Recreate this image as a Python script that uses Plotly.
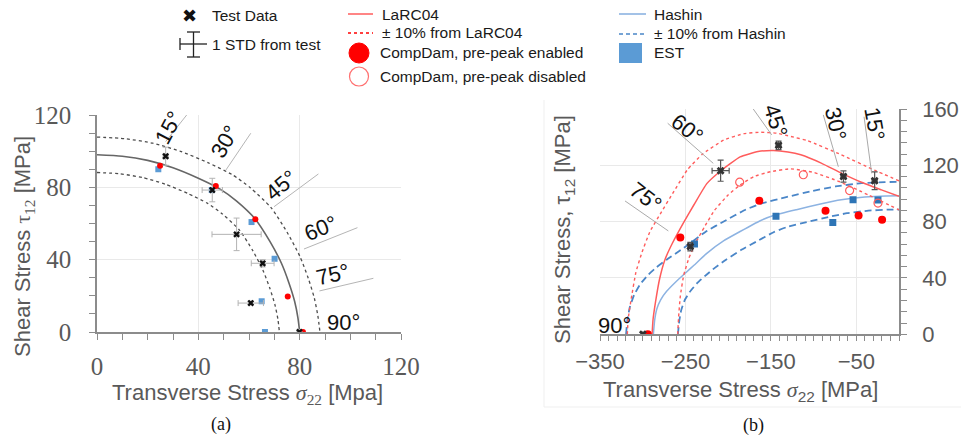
import plotly.graph_objects as go

W, H = 961, 438
def px(x): return x / W
def py(y): return 1 - y / H

# ---------------- (a) data ----------------
a_solid_s = [0, 10, 20, 30, 40, 48.6, 55, 62.5, 68.3, 72.8, 75.8, 78, 79.3, 80]
a_solid_t = [98, 97.2, 94.9, 90.8, 85, 79, 72.5, 62.4, 50, 38, 27, 17, 8, 0]
a_outer_s = [0, 11, 22, 33, 44, 53.5, 60.5, 68.8, 75.1, 80.1, 83.4, 85.8, 87.2, 88]
a_outer_t = [107.8, 106.9, 104.4, 99.9, 93.5, 86.9, 79.8, 68.6, 55, 41.8, 29.7, 18.7, 8.8, 0]
a_inner_s = [0, 9, 18, 27, 36, 43.7, 49.5, 56.3, 61.5, 65.5, 68.2, 70.2, 71.4, 72]
a_inner_t = [88.2, 87.5, 85.4, 81.7, 76.5, 71.1, 65.3, 56.2, 45, 34.2, 24.3, 15.3, 7.2, 0]

a_test_s = [27.1, 45.5, 55.1, 65.4, 60.7, 79.9]
a_test_t = [97.2, 78.5, 54, 38, 16, 0]
a_test_es = [1, 4, 9.7, 4.5, 5, 0]
a_test_et = [5, 6.5, 9, 2, 1, 0]

a_cd_s = [24.9, 46.9, 62.5, 75.3, 81.3]
a_cd_t = [92, 80.8, 62.4, 19.7, 0]

a_est_s = [24.2, 45.3, 61, 70.1, 65, 66.3]
a_est_t = [90, 78.5, 60.8, 40.5, 17, 0]

# ---------------- (b) data ----------------
b_larc_s = [-289, -288, -285, -280, -274, -265, -252.5, -240, -225, -208.8, -186, -165, -147, -130, -115, -91, -67.6, -44, -20.6, 0]
b_larc_t = [0, 10, 23, 40, 53, 65, 79, 92, 107, 116, 126, 129.8, 130.5, 129.5, 127.5, 121.6, 114.5, 108, 102.6, 98]
b_larc_hi_s = [-318, -317, -313.5, -308, -301, -291.5, -278, -264, -247.5, -230, -205, -181.5, -162, -143, -126.5, -107, -67.6, -28.5, 0]
b_larc_hi_t = [0, 11, 25, 44, 58, 73, 87, 101, 117, 128, 138, 142.5, 143.5, 142.8, 140.5, 137.5, 127.5, 116.5, 109]
b_larc_lo_s = [-259, -258, -256, -252, -246, -238, -228, -216, -200, -186, -170, -150, -127, -100, -70, -36, 0]
b_larc_lo_t = [0, 12, 27, 42, 54, 65, 76, 88, 99, 106, 112, 115.5, 117.5, 115, 108.5, 99, 88.4]

b_hash_s = [-287.5, -286, -283.5, -279, -272, -262, -250, -240, -225, -205, -186, -163, -146, -120, -92, -67.6, -40, -15, 0]
b_hash_t = [0, 10, 18, 24.5, 30.5, 36.8, 43.5, 49, 57.5, 66.5, 73, 80.5, 84.5, 88.5, 92.5, 95.5, 97.5, 98.3, 98.4]
b_hash_hi_s = [-319.5, -318, -315, -310, -303, -294, -284, -272, -258, -244.6, -225.5, -204.6, -179.3, -160.6, -132, -101.2, -74.4, -44, -16.5, 0]
b_hash_hi_t = [0, 10, 19.5, 28, 35.5, 42, 47.5, 53, 58.8, 64.6, 73.2, 80.3, 88.6, 93, 97.4, 101.8, 105, 107.3, 108.1, 108.2]
b_hash_lo_s = [-258.8, -257.3, -255, -251, -245, -236, -225, -216, -202.5, -184.5, -167.4, -146.7, -131.4, -108, -82.8, -60.8, -36, -13.5, 0]
b_hash_lo_t = [0, 9, 17, 24, 30, 36.5, 42.5, 47, 53, 60, 65.7, 72.5, 76.1, 79.7, 83.3, 86, 87.8, 88.5, 88.6]

b_test_s = [-299.8, -244.3, -208.8, -141, -65, -28.5]
b_test_t = [0, 62.3, 116.2, 134.2, 112.1, 109]
b_test_es = [0, 3, 10, 3, 3, 3]
b_test_et = [0, 3, 7.5, 3, 4, 6.3]

b_cd_on_s = [-294, -256, -163.5, -86, -47.3, -19.8]
b_cd_on_t = [0, 68.7, 94.8, 87.7, 84.4, 81.3]
b_cd_off_s = [-186.5, -112, -57.8, -24.6]
b_cd_off_t = [108, 113.3, 102.1, 93.2]
b_est_s = [-239.4, -144, -77.5, -53.8, -24.6]
b_est_t = [64.2, 83.9, 79.4, 95.5, 95.3]

a_ticks = [0, 40, 80, 120]
b_xticks = [-350, -250, -150, -50]
b_yticks = [0, 40, 80, 120, 160]

# ---------------- styles ----------------
RED = "#ff0000"
LRED = "#ff5c5c"
BLUE_L = "#8db3e2"
BLUE_D = "#4a86c8"
EST_A = "#5b9bd5"
EST_B = "#2e75b6"
TICKC = "#595959"
AXC = "#8c8c8c"
GRID = "#e9e9e9"
SANS = "Liberation Sans, Arial, sans-serif"
SERIF = "Liberation Serif, Times New Roman, serif"

fig = go.Figure()

def line_tr(xs, ys, color, width, dash=None, ax="", shape="spline", smoothing=0.6):
    ln = dict(color=color, width=width, shape=shape)
    if shape == "spline":
        ln["smoothing"] = smoothing
    if dash:
        ln["dash"] = dash
    return go.Scatter(x=xs, y=ys, mode="lines", line=ln, xaxis="x" + ax, yaxis="y" + ax, hoverinfo="skip")

# (a) traces
fig.add_trace(line_tr(a_outer_s, a_outer_t, "#4d4d4d", 1.3, "3px,3px"))
fig.add_trace(line_tr(a_inner_s, a_inner_t, "#4d4d4d", 1.3, "3px,3px"))
fig.add_trace(line_tr(a_solid_s, a_solid_t, "#666666", 1.6))
fig.add_trace(go.Scatter(x=a_est_s, y=a_est_t, mode="markers", marker=dict(symbol="square", size=6, color=EST_A), xaxis="x", yaxis="y"))
fig.add_trace(go.Scatter(x=a_cd_s, y=a_cd_t, mode="markers", marker=dict(symbol="circle", size=6, color=RED), xaxis="x", yaxis="y"))
fig.add_trace(go.Scatter(x=a_test_s, y=a_test_t, mode="markers",
                         marker=dict(symbol="x", size=6, color="#111111"),
                         error_x=dict(type="data", array=a_test_es, color="#b3b3b3", thickness=1, width=3),
                         error_y=dict(type="data", array=a_test_et, color="#b3b3b3", thickness=1, width=3),
                         xaxis="x", yaxis="y"))

# (b) traces
fig.add_trace(line_tr(b_hash_hi_s, b_hash_hi_t, BLUE_D, 1.8, "7px,4px", "2", smoothing=0.4))
fig.add_trace(line_tr(b_hash_lo_s, b_hash_lo_t, BLUE_D, 1.8, "7px,4px", "2", smoothing=0.4))
fig.add_trace(line_tr(b_hash_s, b_hash_t, BLUE_L, 1.5, None, "2", smoothing=0.4))
fig.add_trace(line_tr(b_larc_hi_s, b_larc_hi_t, LRED, 1.4, "3px,3px", "2", smoothing=0.4))
fig.add_trace(line_tr(b_larc_lo_s, b_larc_lo_t, LRED, 1.4, "3px,3px", "2", smoothing=0.4))
fig.add_trace(line_tr(b_larc_s, b_larc_t, LRED, 1.5, None, "2", smoothing=0.4))
fig.add_trace(go.Scatter(x=b_est_s, y=b_est_t, mode="markers", marker=dict(symbol="square", size=7, color=EST_B), xaxis="x2", yaxis="y2"))
fig.add_trace(go.Scatter(x=b_cd_off_s, y=b_cd_off_t, mode="markers", marker=dict(symbol="circle-open", size=8, color=LRED, line=dict(width=1.2)), xaxis="x2", yaxis="y2"))
fig.add_trace(go.Scatter(x=b_cd_on_s, y=b_cd_on_t, mode="markers", marker=dict(symbol="circle", size=8, color=RED), xaxis="x2", yaxis="y2"))
fig.add_trace(go.Scatter(x=b_test_s, y=b_test_t, mode="markers",
                         marker=dict(symbol="x", size=7, color="#333333"),
                         error_x=dict(type="data", array=b_test_es, color="#555555", thickness=1.2, width=3),
                         error_y=dict(type="data", array=b_test_et, color="#555555", thickness=1.2, width=3),
                         xaxis="x2", yaxis="y2"))

minor_a = dict(dtick=10, ticks="outside", ticklen=6, tickcolor=AXC, tickwidth=1.2, showgrid=False)

fig.update_layout(
    width=W, height=H, margin=dict(l=0, r=0, t=0, b=0, autoexpand=False),
    paper_bgcolor="white", plot_bgcolor="white", showlegend=False,
    xaxis=dict(domain=[px(97), px(401)], range=[0, 120], anchor="y", tickvals=a_ticks, automargin=False,
               ticks="outside", ticklen=6, tickcolor=AXC, tickwidth=1.2, minor=minor_a,
               showline=True, linecolor=AXC, linewidth=1.5, showgrid=True, gridcolor=GRID,
               zeroline=False, tickfont=dict(family=SERIF, size=25, color=TICKC), ticklabelstandoff=5),
    yaxis=dict(domain=[py(332), py(115)], range=[0, 120], anchor="x", tickvals=a_ticks, automargin=False,
               ticks="outside", ticklen=6, tickcolor=AXC, tickwidth=1.2, minor=minor_a,
               showline=True, linecolor=AXC, linewidth=1.5, showgrid=True, gridcolor=GRID,
               zeroline=False, tickfont=dict(family=SERIF, size=25, color=TICKC), ticklabelstandoff=13),
    xaxis2=dict(domain=[px(600), px(899)], range=[-350, 0], anchor="y2", tickvals=b_xticks, automargin=False,
                ticks="outside", ticklen=5, tickcolor=AXC, tickwidth=1.2,
                minor=dict(dtick=10, tick0=0, ticks="outside", ticklen=5, tickcolor=AXC, tickwidth=1.2, showgrid=False),
                showline=True, linecolor=AXC, linewidth=1.5, showgrid=True, gridcolor=GRID,
                zeroline=False, tickfont=dict(family=SANS, size=22, color=TICKC), ticklabelstandoff=2),
    yaxis2=dict(domain=[py(334.3), py(109)], range=[0, 160], anchor="x2", side="right", tickvals=b_yticks, automargin=False,
                ticks="outside", ticklen=6, tickcolor=AXC, tickwidth=1.2,
                minor=dict(dtick=8, ticks="outside", ticklen=6, tickcolor=AXC, tickwidth=1.2, showgrid=False),
                showline=True, linecolor=AXC, linewidth=1.5, showgrid=True, gridcolor=GRID,
                zeroline=False, tickfont=dict(family=SANS, size=22, color=TICKC), ticklabelstandoff=11),
)

shapes = []
annots = []

def pline(x0, y0, x1, y1, color, width=1.5, dash=None):
    d = dict(type="line", xref="paper", yref="paper", x0=px(x0), y0=py(y0), x1=px(x1), y1=py(y1),
             line=dict(color=color, width=width))
    if dash:
        d["line"]["dash"] = dash
    shapes.append(d)

def ptext(x, y, text, size=15.5, color="#1a1a1a", family=SANS, xanchor="left", angle=0):
    annots.append(dict(xref="paper", yref="paper", x=px(x), y=py(y), text=text, showarrow=False,
                       xanchor=xanchor, yanchor="middle", textangle=angle,
                       font=dict(family=family, size=size, color=color)))

# faint chart-area border for (b)
pline(544, 100, 544, 407, "#efefef", 1)
pline(544, 407, 961, 407, "#efefef", 1)

# ---- angle label lines & labels (a) in data coords
a_lbl_lines = [((27.1, 105.3), (35.4, 120)), ((50.9, 89.6), (60.7, 109.9)), ((69.9, 69.3), (87.4, 87.4)),
               ((81.7, 45.9), (102.8, 57.7)), ((87.8, 22.7), (109.1, 29.7))]
for (p0, p1) in a_lbl_lines:
    shapes.append(dict(type="line", xref="x", yref="y", x0=p0[0], y0=p0[1], x1=p1[0], y1=p1[1],
                       line=dict(color="#b5b5b5", width=1)))
a_lbls = [("15°", 168, 128, -62), ("30°", 224, 142, -60), ("45°", 281, 186, -40),
          ("60°", 320, 228, -22), ("75°", 332, 274, -13), ("90°", 343, 322, 0)]
for t, x, y, ang in a_lbls:
    ptext(x, y, t, size=22, color="#111111", xanchor="center", angle=ang)

# ---- angle label lines & labels (b)
b_lbl_lines = [((-270.8, 149.9), (-217.4, 121.4)), ((-320.7, 94.7), (-270, 73.4)), ((-170.6, 160), (-149, 141.6)),
               ((-88.6, 155.8), (-71, 119)), ((-40.9, 154.5), (-32, 114.3))]
for (p0, p1) in b_lbl_lines:
    shapes.append(dict(type="line", xref="x2", yref="y2", x0=p0[0], y0=p0[1], x1=p1[0], y1=p1[1],
                       line=dict(color="#aaaaaa", width=1)))
b_lbls = [("60°", 687, 128, 38), ("75°", 645, 197, 38), ("45°", 776, 120, 72),
          ("30°", 836, 123, 78), ("15°", 875, 123, 80), ("90°", 614, 325, 0)]
for t, x, y, ang in b_lbls:
    ptext(x, y, t, size=22, color="#111111", xanchor="center", angle=ang)

# ---- axis titles
tau = '<span style="font-family:Liberation Serif">τ</span>'
sig = '<span style="font-family:Liberation Serif"><i>σ</i></span>'
ptext(24, 247, f'Shear Stress {tau}<sub><span style="font-family:Liberation Serif">12</span></sub> [MPa]',
      size=22, color=TICKC, xanchor="center", angle=-90)
ptext(247.5, 394, f'Transverse Stress {sig}<sub><span style="font-family:Liberation Serif">22</span></sub> [Mpa]',
      size=22, color=TICKC, xanchor="center")
ptext(564, 230, 'Shear Stress, τ<sub>12</sub> [MPa]', size=22, color=TICKC, xanchor="center", angle=-90)
ptext(740, 391, f'Transverse Stress {sig}<sub>22</sub> [MPa]', size=22, color=TICKC, xanchor="center")
ptext(221, 424, "(a)", size=18, color="#111111", family=SERIF, xanchor="center")
ptext(753, 425, "(b)", size=18, color="#111111", family=SERIF, xanchor="center")

# ---- custom legend
ptext(189, 15, "✖", size=18, color="#111111", family="DejaVu Sans", xanchor="center")
ptext(210, 15, "Test Data")
pline(180, 44, 207, 44, "#222222", 1.3)
pline(193.5, 32, 193.5, 57, "#222222", 1.3)
pline(180, 38, 180, 50, "#222222", 1.3)
pline(187, 32, 200, 32, "#222222", 1.3)
pline(187, 57, 200, 57, "#222222", 1.3)
ptext(210, 44, "1 STD from test")
pline(348, 14, 373, 14, LRED, 1.5)
ptext(380, 14, "LaRC04")
pline(348, 33, 373, 33, RED, 1.3, "3px,3px")
ptext(380, 33, "± 10% from LaRC04")
shapes.append(dict(type="circle", xref="paper", yref="paper", x0=px(349), x1=px(369), y0=py(63), y1=py(43),
                   fillcolor=RED, line=dict(color=RED, width=1)))
ptext(378, 53, "CompDam, pre-peak enabled")
shapes.append(dict(type="circle", xref="paper", yref="paper", x0=px(349.5), x1=px(368.5), y0=py(86), y1=py(67),
                   fillcolor="white", line=dict(color="#ff7070", width=1.2)))
ptext(378, 77, "CompDam, pre-peak disabled")
pline(619, 14, 646, 14, BLUE_L, 1.6)
ptext(652, 14, "Hashin")
pline(619, 34, 646, 34, BLUE_D, 1.5, "4px,3px")
ptext(652, 34, "± 10% from Hashin")
shapes.append(dict(type="rect", xref="paper", yref="paper", x0=px(619), x1=px(642), y0=py(63), y1=py(43),
                   fillcolor=EST_A, line=dict(width=0)))
ptext(652, 52, "EST")

fig.update_layout(shapes=shapes, annotations=annots)
fig.write_html("out.html", config={"displayModeBar": False},
               post_script="document.body.style.margin='0';document.body.style.overflow='hidden';")
